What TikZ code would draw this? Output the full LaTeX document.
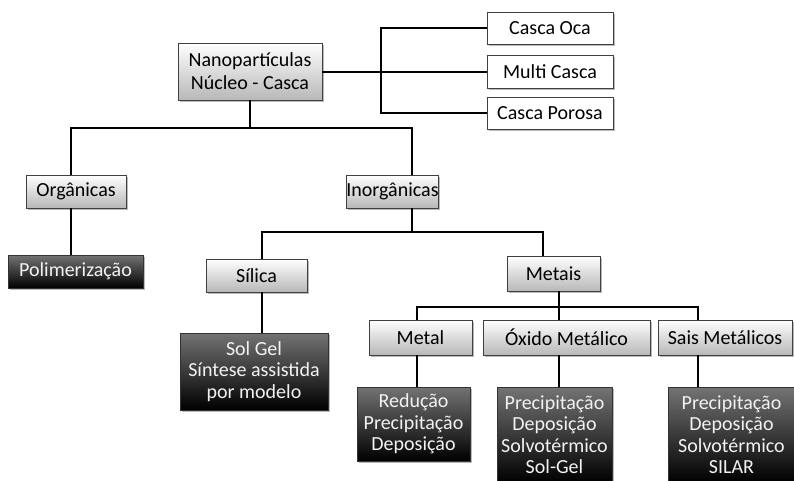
\documentclass[tikz,border=0pt]{standalone}
\usepackage{fontspec}
\setmainfont{Carlito}
\usetikzlibrary{shadows}
\begin{document}
\begin{tikzpicture}[x=1pt,y=-1pt,
  base/.style={inner sep=0pt,align=center,font=\fontsize{20}{21.5}\selectfont,
    drop shadow={shadow xshift=1.5pt,shadow yshift=-1.5pt,fill=black!45,opacity=0.6}},
  lightbox/.style={base,draw=black!75,line width=0.8pt,top color=white,bottom color=black!28},
  plainbox/.style={base,draw=black!75,line width=0.8pt,fill=white},
  darkbox/.style={base,draw=black!80,line width=0.8pt,top color=black!55,bottom color=black,text=black!5},
  conn/.style={draw=black,line width=2pt}]
\useasboundingbox (0,0) rectangle (794,480);
\fill[white] (0,0) rectangle (794,480);
% nodes
\node[lightbox,minimum width=144pt,minimum height=57pt,font=\fontsize{20}{23}\selectfont] (root) at (250,71.5) {Nanopartículas\\Núcleo - Casca};
\node[plainbox,minimum width=126pt,minimum height=32pt] (oca) at (550,28) {Casca Oca};
\node[plainbox,minimum width=126pt,minimum height=33pt] (multi) at (550,71.5) {Multi Casca};
\node[plainbox,minimum width=126pt,minimum height=32pt] (porosa) at (550,113) {Casca Porosa};
\node[lightbox,minimum width=100pt,minimum height=33pt] (org) at (76,191.5) {Orgânicas};
\node[lightbox,minimum width=89pt,minimum height=33pt] (inorg) at (392.5,191.5) {Inorgânicas};
\node[darkbox,minimum width=135pt,minimum height=33pt] (polim) at (75.5,271.5) {Polimerização};
\node[lightbox,minimum width=101pt,minimum height=33pt] (silica) at (256.5,275.5) {Sílica};
\node[lightbox,minimum width=93pt,minimum height=35pt] (metais) at (553.5,273.5) {Metais};
\node[darkbox,minimum width=148pt,minimum height=77pt] (solgel) at (254,371.5) {Sol Gel\\Síntese assistida\\por modelo};
\node[lightbox,minimum width=103pt,minimum height=35pt] (metal) at (420.5,337.5) {Metal};
\node[lightbox,minimum width=167pt,minimum height=35pt] (oxido) at (566.5,337.5) {Óxido Metálico};
\node[lightbox,minimum width=134pt,minimum height=35pt] (sais) at (725,337.5) {Sais Metálicos};
\node[darkbox,minimum width=113pt,minimum height=74pt] (red) at (413.5,424) {Redução\\Precipitação\\Deposição};
\node[darkbox,minimum width=115pt,minimum height=95pt,anchor=north] (prec1) at (554.5,387) {Precipitação\\Deposição\\Solvotérmico\\Sol-Gel};
\node[darkbox,minimum width=127pt,minimum height=95pt,anchor=north] (prec2) at (731.5,387) {Precipitação\\Deposição\\Solvotérmico\\SILAR};
% junction coordinates
\coordinate (spine) at (381,0);
\coordinate (j1) at (250,128);
\coordinate (j2) at (412,232);
\coordinate (j3) at (559,307);
% connectors
\draw[conn] (root.east) -- (multi.west);
\draw[conn] (oca.west) -| (spine |- porosa.west) -- (porosa.west);
\draw[conn] (root.south) -- (j1);
\draw[conn] (org.north -| 71,0) |- (j1) -| (inorg.north -| 412,0);
\draw[conn] (org.south -| 71,0) -- (polim.north -| 71,0);
\draw[conn] (inorg.south -| j2) -- (j2);
\draw[conn] (silica.north -| 262,0) |- (j2) -| (metais.north -| 543,0);
\draw[conn] (silica.south -| 262,0) -- (solgel.north -| 262,0);
\draw[conn] (metais.south -| j3) -- (j3);
\draw[conn] (metal.north -| 417,0) |- (j3) -| (sais.north -| 698,0);
\draw[conn] (j3) -- (oxido.north -| j3);
\draw[conn] (metal.south -| 417,0) -- (red.north -| 417,0);
\draw[conn] (oxido.south -| j3) -- (prec1.north -| j3);
\draw[conn] (sais.south -| 698,0) -- (prec2.north -| 698,0);
\end{tikzpicture}
\end{document}
